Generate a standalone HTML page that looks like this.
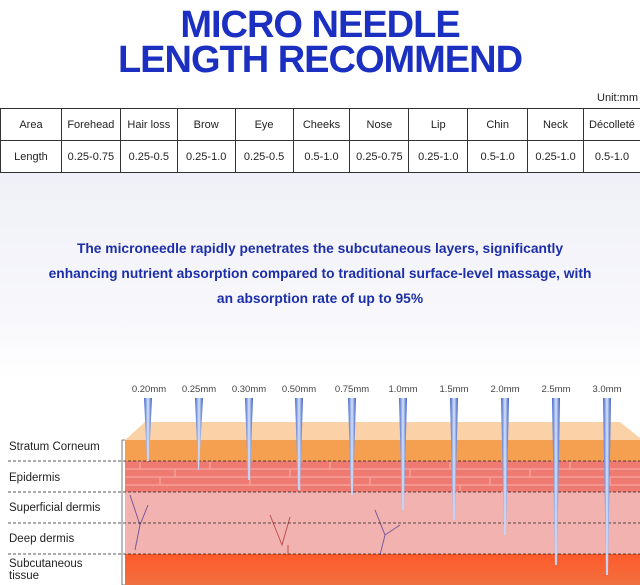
<!DOCTYPE html>
<html><head><meta charset="utf-8"><style>
body{margin:0;width:640px;height:585px;overflow:hidden;background:#fff;font-family:"Liberation Sans",sans-serif;position:relative}
.t{position:absolute;left:0;width:640px;text-align:center;color:#1b2fc0;font-weight:bold;font-size:38px;letter-spacing:-1px;line-height:1}
table{position:absolute;top:108px;left:0;border-collapse:collapse;font-size:11px;color:#222}
td{border:1px solid #333;height:31px;text-align:center;padding:0}
.mid{position:absolute;top:173px;left:0;width:640px;height:208px;background:linear-gradient(#f0f1f8,#f6f6fb 60%,#fff)}
.p{position:absolute;top:236px;left:0;width:640px;text-align:center;color:#1c2fa8;font-weight:bold;font-size:13.8px;line-height:25px}
.lab{position:absolute;left:9px;font-size:11.5px;color:#222;line-height:12px}
.mm{position:absolute;top:384px;font-size:9.5px;color:#444;width:40px;margin-left:-20px;text-align:center}
</style></head><body>
<div class="t" style="top:6px">MICRO NEEDLE</div>
<div class="t" style="top:41px">LENGTH RECOMMEND</div>
<div style="position:absolute;top:92px;right:2px;font-size:11px;color:#222">Unit:mm</div>
<table><tr>
<td style="width:60px">Area</td><td style="width:58px">Forehead</td><td style="width:56px">Hair loss</td><td style="width:57px">Brow</td><td style="width:57px">Eye</td><td style="width:56px">Cheeks</td><td style="width:58px">Nose</td><td style="width:58px">Lip</td><td style="width:59px">Chin</td><td style="width:55px">Neck</td><td style="width:56px;border-right:none">Décolleté</td></tr><tr>
<td>Length</td><td>0.25-0.75</td><td>0.25-0.5</td><td>0.25-1.0</td><td>0.25-0.5</td><td>0.5-1.0</td><td>0.25-0.75</td><td>0.25-1.0</td><td>0.5-1.0</td><td>0.25-1.0</td><td style="border-right:none">0.5-1.0</td></tr></table>
<div class="mid"></div>
<div class="p">The microneedle rapidly penetrates the subcutaneous layers, significantly<br>enhancing nutrient absorption compared to traditional surface-level massage, with<br>an absorption rate of up to 95%</div>
<svg style="position:absolute;left:0;top:380px" width="640" height="205">
<defs>
<linearGradient id="n" x1="0" x2="1"><stop offset="0" stop-color="#3e63c8"/><stop offset=".5" stop-color="#d8e4fb"/><stop offset="1" stop-color="#3a5cc0"/></linearGradient>
<linearGradient id="s" x1="0" y1="0" x2="0" y2="1"><stop offset="0" stop-color="#ff5a2a"/><stop offset="1" stop-color="#f07040"/></linearGradient>
</defs>
<polygon points="125,60 145,42 620,42 640,58 640,62 125,62" fill="#fbd2a8"/>
<rect x="125" y="60" width="515" height="21" fill="#f5a050"/>
<rect x="125" y="81" width="515" height="31" fill="#ee7a72"/>
<g stroke="#f8b3a8" stroke-width="1" fill="none">
<path d="M125 89H640M125 97H640M125 105H640"/>
<path d="M140 81v8M175 89v8M210 81v8M250 97v8M290 89v8M330 81v8M370 97v8M410 89v8M450 81v8M490 97v8M530 89v8M570 81v8M610 97v8M160 97v8M300 105v7M460 105v7"/>
</g>
<rect x="125" y="112" width="515" height="62" fill="#f2b3b0"/>
<rect x="125" y="174" width="515" height="31" fill="url(#s)"/>
<g stroke="#7a5a9a" stroke-width="1" fill="none"><path d="M130 115l10 30-5 25M140 145l8 -20M375 130l10 25-5 20M385 155l15-10"/></g>
<g stroke="#c05050" stroke-width="1" fill="none"><path d="M270 135l12 30 8-28M288 175v-10"/></g>
<g stroke="#222" stroke-width="0.8" stroke-dasharray="3,2"><path d="M8 81H640M8 112H640M8 143H640M8 174H640"/></g>
<g stroke="#555" fill="none" stroke-width="0.8"><path d="M125 60h-3v145h3"/></g>
<g fill="url(#n)">
<polygon points="144,18 152,18 149,81 147,81"/>
<polygon points="195,18 203,18 199,90 198,90"/>
<polygon points="245,18 253,18 250,100 248,100"/>
<polygon points="295,18 303,18 300,110 298,110"/>
<polygon points="348,18 356,18 353,115 351,115"/>
<polygon points="399,18 407,18 404,130 402,130"/>
<polygon points="450,18 458,18 455,140 453,140"/>
<polygon points="501,18 509,18 506,155 504,155"/>
<polygon points="552,18 560,18 557,185 555,185"/>
<polygon points="603,18 611,18 608,195 606,195"/>
</g>
</svg>
<div class="mm" style="left:149px">0.20mm</div><div class="mm" style="left:199px">0.25mm</div><div class="mm" style="left:249px">0.30mm</div><div class="mm" style="left:299px">0.50mm</div><div class="mm" style="left:352px">0.75mm</div><div class="mm" style="left:403px">1.0mm</div><div class="mm" style="left:454px">1.5mm</div><div class="mm" style="left:505px">2.0mm</div><div class="mm" style="left:556px">2.5mm</div><div class="mm" style="left:607px">3.0mm</div>
<div class="lab" style="top:441px">Stratum Corneum</div>
<div class="lab" style="top:472px">Epidermis</div>
<div class="lab" style="top:502px">Superficial dermis</div>
<div class="lab" style="top:533px">Deep dermis</div>
<div class="lab" style="top:558px">Subcutaneous<br>tissue</div>
</body></html>
